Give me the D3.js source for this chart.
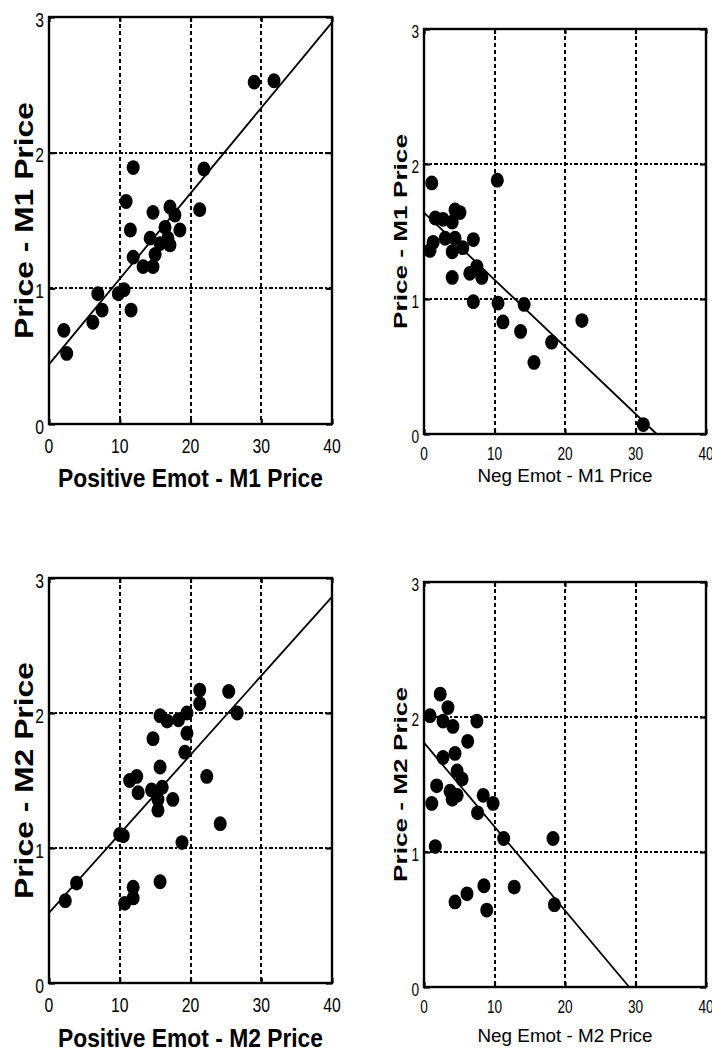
<!DOCTYPE html>
<html>
<head>
<meta charset="utf-8">
<script src="https://cdn.jsdelivr.net/npm/d3@7"></script>
<style>
	body { margin: 0; background: #fff; }
	svg { display: block; }
	.tick-label { font-family: "Liberation Sans", Arial, sans-serif; }
	.axis-title { font-family: "Liberation Sans", Arial, sans-serif; }
</style>
</head>
<body>
<svg id="chart" width="712" height="1051"></svg>
<script>
// values
var posM1X = [2.1, 2.5, 6.2, 6.9, 7.5, 9.8, 10.6, 11.6, 10.9, 11.5, 11.9, 11.9, 13.3, 14.7, 15.0, 14.3, 14.7, 15.7, 16.4, 16.8, 17.1, 17.1, 17.8, 18.5, 21.3, 21.9, 29.0, 31.8];
var posM1Y = [0.69, 0.52, 0.75, 0.96, 0.84, 0.96, 0.99, 0.84, 1.64, 1.43, 1.89, 1.23, 1.16, 1.16, 1.25, 1.37, 1.56, 1.33, 1.45, 1.37, 1.60, 1.32, 1.54, 1.43, 1.58, 1.88, 2.52, 2.53];

var negM1X = [1.1, 10.4, 4.4, 5.1, 1.6, 2.7, 4.0, 1.3, 3.0, 4.4, 7.0, 0.85, 4.0, 5.5, 4.0, 6.5, 7.5, 8.2, 7.0, 10.5, 14.2, 11.2, 13.7, 18.1, 22.4, 15.6, 31.1];
var negM1Y = [1.86, 1.88, 1.66, 1.64, 1.60, 1.59, 1.57, 1.42, 1.45, 1.45, 1.44, 1.36, 1.35, 1.38, 1.16, 1.19, 1.24, 1.16, 0.98, 0.97, 0.96, 0.83, 0.76, 0.68, 0.84, 0.53, 0.07];

var posM2X = [2.3, 3.9, 10.0, 10.5, 10.7, 11.9, 11.9, 15.7, 11.4, 12.4, 12.6, 14.5, 16.0, 15.4, 17.5, 15.4, 14.7, 15.7, 16.7, 18.3, 19.5, 19.5, 19.2, 15.7, 18.8, 21.3, 21.3, 22.3, 24.2, 25.4, 26.6];
var posM2Y = [0.61, 0.74, 1.10, 1.09, 0.59, 0.71, 0.63, 0.75, 1.50, 1.53, 1.41, 1.43, 1.45, 1.36, 1.36, 1.28, 1.81, 1.98, 1.94, 1.95, 2.00, 1.85, 1.71, 1.60, 1.04, 2.07, 2.17, 1.53, 1.18, 2.16, 2.00];

var negM2X = [2.3, 0.85, 3.4, 2.7, 4.1, 7.5, 6.2, 2.7, 4.4, 4.7, 5.4, 1.8, 3.7, 4.7, 8.4, 9.8, 1.1, 4.0, 7.6, 11.3, 18.3, 1.6, 4.4, 6.1, 8.5, 8.9, 12.8, 18.5];
var negM2Y = [2.17, 2.01, 2.07, 1.97, 1.93, 1.97, 1.82, 1.70, 1.73, 1.60, 1.54, 1.49, 1.45, 1.42, 1.42, 1.36, 1.36, 1.39, 1.29, 1.10, 1.10, 1.04, 0.63, 0.69, 0.75, 0.57, 0.74, 0.61];

// fitted lines: intercept, slope, last x
var fitIntercept = [0.44, 1.64, 0.52, 1.81];
var fitSlope = [0.063, -0.0497, 0.0585, -0.0622];
var fitXEnd = [40, 33, 40, 29.1];

var xTicks = [0, 10, 20, 30, 40];
var yTicks = [0, 1, 2, 3];
var xTitles = ["Positive Emot - M1 Price", "Neg Emot - M1 Price", "Positive Emot - M2 Price", "Neg Emot - M2 Price"];
var yTitles = ["Price - M1 Price", "Price - M1 Price", "Price - M2 Price", "Price - M2 Price"];

var seriesX = [posM1X, negM1X, posM2X, negM2X];
var seriesY = [posM1Y, negM1Y, posM2Y, negM2Y];

// layout of each panel (plot box + text sizes)
var boxes = [
	{ l: 49, t: 17, r: 332, b: 424, bold: true, tick: 21, squeeze: 0.75, title: 25, xLen: 265, xBase: 63, yLen: 237, yBase: 33 },
	{ l: 424, t: 29, r: 706, b: 434, bold: false, tick: 19, squeeze: 0.72, title: 19, xLen: 175, xBase: 48, yLen: 195, yBase: 407 },
	{ l: 49, t: 578, r: 332, b: 983, bold: true, tick: 21, squeeze: 0.75, title: 25, xLen: 265, xBase: 64, yLen: 237, yBase: 33 },
	{ l: 424, t: 582, r: 706, b: 987, bold: false, tick: 19, squeeze: 0.72, title: 19, xLen: 175, xBase: 55, yLen: 195, yBase: 407 }
];

var svg = d3.select("#chart");

boxes.forEach(function(box, i) {
	var g = svg.append("g").attr("class", "panel");

	var x = d3.scaleLinear().domain([0, 40]).range([box.l, box.r]);
	var y = d3.scaleLinear().domain([0, 3]).range([box.b, box.t]);

	// grid
	g.append("g")
		.selectAll("line")
		.data(xTicks.slice(1, -1))
		.enter()
		.append("line")
		.attr("x1", (d) => Math.round(x(d)))
		.attr("x2", (d) => Math.round(x(d)))
		.attr("y1", box.t)
		.attr("y2", box.b)
		.attr("stroke", "#000")
		.attr("stroke-width", 2)
		.attr("shape-rendering", "crispEdges")
		.attr("stroke-dasharray", "4,3");

	g.append("g")
		.selectAll("line")
		.data(yTicks.slice(1, -1))
		.enter()
		.append("line")
		.attr("x1", box.l)
		.attr("x2", box.r)
		.attr("y1", (d) => Math.round(y(d)))
		.attr("y2", (d) => Math.round(y(d)))
		.attr("stroke", "#000")
		.attr("stroke-width", 2)
		.attr("shape-rendering", "crispEdges")
		.attr("stroke-dasharray", "4,2,2,2");

	// inward ticks on all four sides
	g.append("g")
		.attr("transform", "translate(0," + box.b + ")")
		.call(d3.axisBottom(x).tickValues(xTicks).tickSize(-5).tickFormat(""))
		.call((a) => a.select(".domain").remove());
	g.append("g")
		.attr("transform", "translate(0," + box.t + ")")
		.call(d3.axisTop(x).tickValues(xTicks).tickSize(-5).tickFormat(""))
		.call((a) => a.select(".domain").remove());
	g.append("g")
		.attr("transform", "translate(" + box.l + ",0)")
		.call(d3.axisLeft(y).tickValues(yTicks).tickSize(-6).tickFormat(""))
		.call((a) => a.select(".domain").remove());
	g.append("g")
		.attr("transform", "translate(" + box.r + ",0)")
		.call(d3.axisRight(y).tickValues(yTicks).tickSize(-6).tickFormat(""))
		.call((a) => a.select(".domain").remove());
	g.selectAll(".tick line").attr("stroke-width", 2.2);

	// tick labels, squeezed to look like a narrow face
	g.append("g")
		.selectAll("text")
		.data(xTicks)
		.enter()
		.append("text")
		.attr("class", "tick-label")
		.attr("transform", (d) => "translate(" + x(d) + "," + (box.b + (box.bold ? 29 : 26)) + ") scale(" + box.squeeze + ",1)")
		.attr("text-anchor", "middle")
		.style("font-size", box.tick + "px")
		.text((d) => d);

	g.append("g")
		.selectAll("text")
		.data(yTicks)
		.enter()
		.append("text")
		.attr("class", "tick-label")
		.attr("transform", (d) => "translate(" + (box.l - 5) + "," + (y(d) + box.tick * 0.36 + 2) + ") scale(" + box.squeeze + ",1)")
		.attr("text-anchor", "end")
		.style("font-size", box.tick + "px")
		.text((d) => d);

	// plot frame
	g.append("rect")
		.attr("x", box.l)
		.attr("y", box.t)
		.attr("width", box.r - box.l)
		.attr("height", box.b - box.t)
		.attr("fill", "none")
		.attr("stroke", "#000")
		.attr("stroke-width", 2.4);

	// fit line
	g.append("line")
		.attr("x1", x(0))
		.attr("y1", y(fitIntercept[i]))
		.attr("x2", x(fitXEnd[i]))
		.attr("y2", y(fitIntercept[i] + fitSlope[i] * fitXEnd[i]))
		.attr("stroke", "#000")
		.attr("stroke-width", 1.8);

	// points
	g.append("g")
		.selectAll("ellipse")
		.data(d3.range(seriesX[i].length))
		.enter()
		.append("ellipse")
		.attr("cx", (j) => x(seriesX[i][j]))
		.attr("cy", (j) => y(seriesY[i][j]))
		.attr("rx", 6.5)
		.attr("ry", 7.4)
		.attr("fill", "#000");

	// axis titles
	g.append("text")
		.attr("class", "axis-title")
		.attr("x", (box.l + box.r) / 2)
		.attr("y", box.b + box.xBase)
		.attr("text-anchor", "middle")
		.attr("textLength", box.xLen)
		.attr("lengthAdjust", "spacingAndGlyphs")
		.style("font-size", box.title + "px")
		.style("font-weight", box.bold ? "bold" : "normal")
		.text(xTitles[i]);

	g.append("text")
		.attr("class", "axis-title")
		.attr("transform", "translate(" + box.yBase + "," + (box.t + box.b) / 2 + ") rotate(-90)")
		.attr("text-anchor", "middle")
		.attr("textLength", box.yLen)
		.attr("lengthAdjust", "spacingAndGlyphs")
		.style("font-size", box.title + "px")
		.style("font-weight", "bold")
		.text(yTitles[i]);
});
</script>
</body>
</html>
